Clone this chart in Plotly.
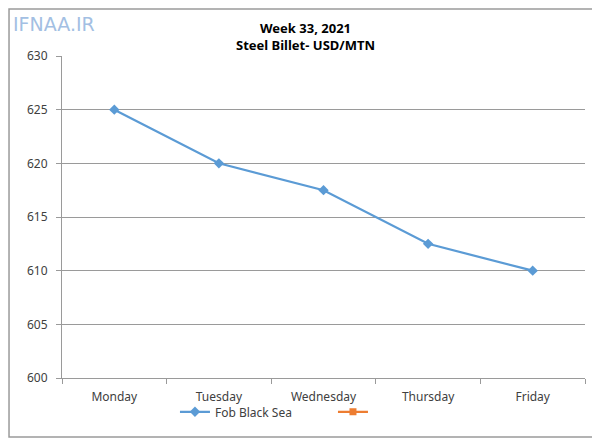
import plotly.graph_objects as go

days = ["Monday", "Tuesday", "Wednesday", "Thursday", "Friday"]
fob_black_sea = [625, 620, 617.5, 612.5, 610]
y_ticks = [600, 605, 610, 615, 620, 625, 630]

fig = go.Figure()
fig.add_trace(go.Scatter(
    x=days, y=fob_black_sea, name="Fob Black Sea", mode="lines+markers",
    line=dict(color="#5B9BD5", width=2.2),
    marker=dict(symbol="diamond", size=8, color="#5B9BD5"),
))
fig.add_trace(go.Scatter(
    x=[None], y=[None], name="", mode="lines+markers",
    line=dict(color="#ED7D31", width=2.2),
    marker=dict(symbol="square", size=7, color="#ED7D31"),
))

fig.update_layout(
    width=600, height=440,
    margin=dict(l=54, r=23, t=48, b=70, autoexpand=False),
    paper_bgcolor="white", plot_bgcolor="white",
    font=dict(family="Noto Sans", size=12, color="#404040"),
    showlegend=True,
    legend=dict(orientation="h", x=0.216, xanchor="left", y=-0.06, yanchor="top",
                bgcolor="rgba(0,0,0,0)",
                font=dict(size=12, color="#404040"), itemwidth=30, entrywidth=113),
    xaxis=dict(type="category", range=[-0.5, 4.5], showgrid=False, showline=True, linecolor="#9A9A9A",
               ticks="outside", tickson="boundaries", ticklen=5, tickcolor="#9A9A9A",
               automargin=False, ticklabelstandoff=8, tickfont=dict(size=12, color="#404040")),
    yaxis=dict(range=[600, 630], tickvals=y_ticks, showgrid=True, gridcolor="#9A9A9A",
               showline=True, linecolor="#9A9A9A", ticks="outside", ticklen=5,
               tickcolor="#9A9A9A", zeroline=False, automargin=False, ticklabelstandoff=6,
               tickfont=dict(size=12, color="#404040")),
    annotations=[
        dict(text="<b>Week 33, 2021</b><br><b>Steel Billet- USD/MTN</b>", xref="paper", yref="paper",
             x=0.465, y=1.0, xanchor="center", yanchor="bottom", showarrow=False,
             font=dict(size=13, color="#000000"), yshift=0),
        dict(text="IFNAA.IR", xref="paper", yref="paper", x=-0.0975, y=1.10,
             xanchor="left", yanchor="middle", showarrow=False,
             font=dict(size=19, color="#A3BFE3", family="DejaVu Sans")),
    ],
    shapes=[dict(type="rect", xref="paper", yref="paper", x0=-0.1013, x1=1.0229, y0=-0.1832, y1=1.146,
                 line=dict(color="#9A9A9A", width=1.5), fillcolor="rgba(0,0,0,0)")],
)

fig.write_html("out.html")
